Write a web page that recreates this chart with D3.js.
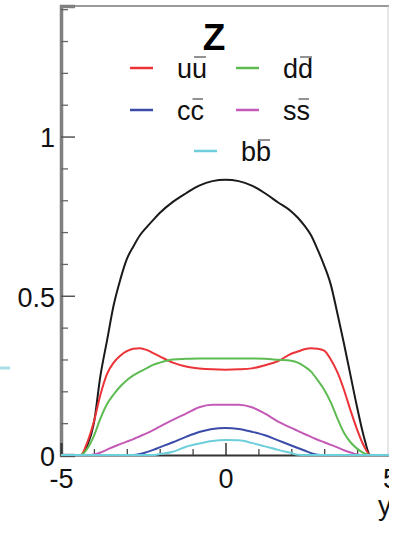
<!DOCTYPE html>
<html>
<head>
<meta charset="utf-8">
<script src="https://cdn.jsdelivr.net/npm/d3@7"></script>
<style>
  html, body { margin: 0; padding: 0; background: #fff; }
  svg { display: block; }
  text { font-family: "Liberation Sans", Arial, Helvetica, sans-serif; }
</style>
</head>
<body>
<div id="chart"></div>
<script>
// ---- data ----
const rapidity = [-5, -4.4, -4.2, -4.0, -3.8, -3.6, -3.4, -3.2, -3.0, -2.8, -2.6, -2.4, -2.2, -2.0, -1.6, -1.2, -0.8, -0.4, 0, 0.4, 0.8, 1.2, 1.6, 2.0, 2.2, 2.4, 2.6, 2.8, 3.0, 3.2, 3.4, 3.6, 3.8, 4.0, 4.2, 4.4, 5];
const totalZ = [0, 0, 0.03, 0.10, 0.25, 0.36, 0.47, 0.55, 0.615, 0.655, 0.69, 0.715, 0.738, 0.76, 0.795, 0.822, 0.846, 0.86, 0.864, 0.86, 0.846, 0.822, 0.793, 0.765, 0.745, 0.72, 0.69, 0.645, 0.595, 0.535, 0.445, 0.35, 0.25, 0.15, 0.06, 0, 0];
const uubar = [0, 0, 0.04, 0.105, 0.19, 0.255, 0.29, 0.312, 0.326, 0.334, 0.335, 0.33, 0.32, 0.31, 0.29, 0.278, 0.272, 0.269, 0.268, 0.269, 0.272, 0.282, 0.295, 0.318, 0.325, 0.332, 0.335, 0.334, 0.328, 0.30, 0.26, 0.205, 0.14, 0.08, 0.03, 0, 0];
const ddbar = [0, 0, 0.02, 0.06, 0.115, 0.16, 0.19, 0.215, 0.235, 0.25, 0.262, 0.272, 0.283, 0.29, 0.30, 0.302, 0.303, 0.303, 0.303, 0.303, 0.303, 0.302, 0.299, 0.296, 0.29, 0.278, 0.262, 0.235, 0.205, 0.165, 0.115, 0.07, 0.04, 0.02, 0.006, 0, 0];
const ssbar = [0, 0, 0, 0.002, 0.008, 0.017, 0.026, 0.034, 0.042, 0.05, 0.059, 0.068, 0.078, 0.089, 0.11, 0.13, 0.15, 0.158, 0.158, 0.158, 0.15, 0.13, 0.105, 0.085, 0.076, 0.066, 0.057, 0.048, 0.04, 0.032, 0.024, 0.015, 0.008, 0.002, 0, 0, 0];
const ccbar = [0, 0, 0, 0, 0, 0, 0, 0, 0, 0, 0.003, 0.009, 0.016, 0.024, 0.04, 0.057, 0.072, 0.082, 0.085, 0.082, 0.073, 0.062, 0.046, 0.03, 0.022, 0.014, 0.006, 0.001, 0, 0, 0, 0, 0, 0, 0, 0, 0];
const bbbar = [0, 0, 0, 0, 0, 0, 0, 0, 0, 0, 0, 0, 0, 0.003, 0.01, 0.026, 0.036, 0.044, 0.047, 0.046, 0.038, 0.027, 0.016, 0.006, 0.001, 0, 0, 0, 0, 0, 0, 0, 0, 0, 0, 0, 0];

const xMajorTicks = [-5, 0, 5];
const xMinorTicks = [-4, -3, -2, -1, 1, 2, 3, 4];
const yMajorTicks = [0, 0.5, 1];
const yMinorTicks = [0.1, 0.2, 0.3, 0.4, 0.6, 0.7, 0.8, 0.9, 1.1, 1.2, 1.3, 1.4];
const xTitle = "y";
const chartTitle = "Z";

const seriesList = [
  { key: "tot", values: totalZ, color: "#1a1a1a" },
  { key: "u", values: uubar, color: "#ec3338", label: ["u", "u"] },
  { key: "d", values: ddbar, color: "#5ebb52", label: ["d", "d"] },
  { key: "s", values: ssbar, color: "#c45ab8", label: ["s", "s"] },
  { key: "c", values: ccbar, color: "#3b4ba8", label: ["c", "c"] },
  { key: "b", values: bbbar, color: "#6ccfdb", label: ["b", "b"] }
];

// ---- layout ----
const W = 389, H = 534;
const svg = d3.select("#chart").append("svg").attr("width", W).attr("height", H);

const x = d3.scaleLinear().domain([-5, 5]).range([61, 390]);
const y = d3.scaleLinear().domain([0, 1.41]).range([455, 6]);

// stray legend line from neighbouring panel
svg.append("line").attr("x1", 0).attr("x2", 10).attr("y1", 368).attr("y2", 368)
  .attr("stroke", "#a6dde2").attr("stroke-width", 3);

// frame (top / right)
svg.append("line").attr("x1", x(-5)).attr("x2", W).attr("y1", y(1.41)).attr("y2", y(1.41))
  .attr("stroke", "#777").attr("stroke-width", 1.5);
svg.append("line").attr("x1", W - 1).attr("x2", W - 1).attr("y1", y(1.41)).attr("y2", y(0))
  .attr("stroke", "#ccc").attr("stroke-width", 1);

// y axis
const yMajor = svg.append("g").attr("transform", `translate(${x(-5)},0)`)
  .call(d3.axisLeft(y).tickValues(yMajorTicks).tickSize(-14).tickPadding(6)
    .tickFormat(d => d === 0 ? "0" : d3.format("~g")(d)));
yMajor.select(".domain").attr("stroke", "#808080").attr("stroke-width", 3.5);
yMajor.selectAll(".tick line").attr("stroke", "#555").attr("stroke-width", 1.5);
yMajor.selectAll(".tick text").attr("font-size", 27).attr("fill", "#111").attr("dy", "0.38em")
  .style("font-family", "'Liberation Sans', Arial, sans-serif");

const yMinor = svg.append("g").attr("transform", `translate(${x(-5)},0)`)
  .call(d3.axisLeft(y).tickValues(yMinorTicks).tickSize(-7).tickFormat(""));
yMinor.select(".domain").remove();
yMinor.selectAll(".tick line").attr("stroke", "#666").attr("stroke-width", 1.3);

// x axis
const xMajor = svg.append("g").attr("transform", `translate(0,${y(0)})`)
  .call(d3.axisBottom(x).tickValues(xMajorTicks).tickSize(-12).tickPadding(14).tickFormat(d3.format("d")));
xMajor.select(".domain").attr("stroke", "#333").attr("stroke-width", 2);
xMajor.selectAll(".tick line").attr("stroke", "#333").attr("stroke-width", 1.5);
xMajor.selectAll(".tick text").attr("font-size", 27).attr("fill", "#111")
  .style("font-family", "'Liberation Sans', Arial, sans-serif")
  .text(d => d < 0 ? "-" + Math.abs(d) : d);

const xMinor = svg.append("g").attr("transform", `translate(0,${y(0)})`)
  .call(d3.axisBottom(x).tickValues(xMinorTicks).tickSize(-6).tickFormat(""));
xMinor.select(".domain").remove();
xMinor.selectAll(".tick line").attr("stroke", "#444").attr("stroke-width", 1.3);

// axis title
svg.append("text").attr("x", 378).attr("y", 515).attr("font-size", 27).attr("fill", "#111").text(xTitle);

// curves
const line = d3.line()
  .x((d, i) => x(rapidity[i]))
  .y(d => y(d))
  .curve(d3.curveMonotoneX);

svg.append("g").selectAll("path").data(seriesList).join("path")
  .attr("d", s => line(s.values))
  .attr("fill", "none")
  .attr("stroke", s => s.color)
  .attr("stroke-width", 2)
  .attr("stroke-linejoin", "round");

// title
svg.append("text").attr("x", 214).attr("y", 50).attr("text-anchor", "middle")
  .attr("font-size", 37).attr("font-weight", "bold").attr("fill", "#000").text(chartTitle);

// legend
const legendItems = [
  { s: seriesList[1], lx: 130, ty: 78 },
  { s: seriesList[2], lx: 236, ty: 78 },
  { s: seriesList[4], lx: 130, ty: 120 },
  { s: seriesList[3], lx: 236, ty: 120 },
  { s: seriesList[5], lx: 194, ty: 161 }
];
const lg = svg.append("g");
legendItems.forEach(it => {
  lg.append("line").attr("x1", it.lx).attr("x2", it.lx + 23)
    .attr("y1", it.ty - 10).attr("y2", it.ty - 10)
    .attr("stroke", it.s.color).attr("stroke-width", 2.5);
  const t = lg.append("text").attr("x", it.lx + 47).attr("y", it.ty)
    .attr("font-size", 27).attr("fill", "#111")
    .text(it.s.label[0] + it.s.label[1]);
  // overbar on the antiquark letter
  const node = t.node();
  const p = node.getStartPositionOfChar(1);
  const w = node.getSubStringLength(1, 1);
  lg.append("line")
    .attr("x1", p.x + 2).attr("x2", p.x + w - 1)
    .attr("y1", it.ty - 21).attr("y2", it.ty - 21)
    .attr("stroke", "#777").attr("stroke-width", 1.6);
});
</script>
</body>
</html>
